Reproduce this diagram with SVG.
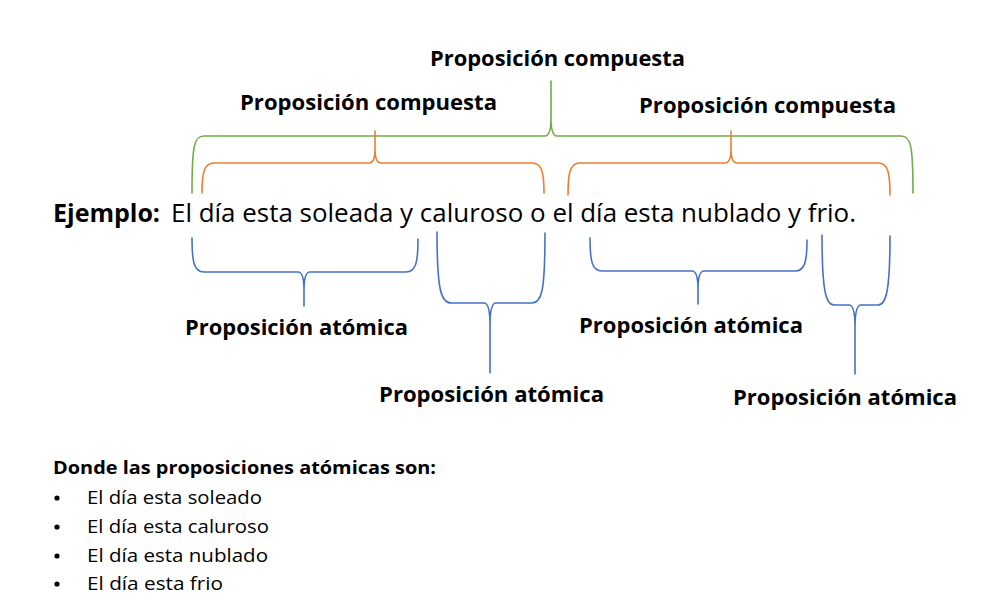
<svg xmlns="http://www.w3.org/2000/svg" width="991" height="609" viewBox="0 0 991 609">
<style>
.br{fill:none;stroke-width:1.6;stroke-linecap:round;stroke-linejoin:round}
.g{stroke:#70AD47}.o{stroke:#ED7D31}.b{stroke:#4472C4}
.lbl{font-family:"Open Sans","Liberation Sans",sans-serif;font-weight:bold;font-size:21.5px;fill:#000}
.main{font-family:"Open Sans","Liberation Sans",sans-serif;font-size:25px;fill:#000}
.list{font-family:"Open Sans","Liberation Sans",sans-serif;font-size:18.5px;fill:#000}
</style>
<rect width="991" height="609" fill="#fff"/>
<g id="connectors">
  <path class="br g" d="M192,193 C192,146 194,136 204,136 L545,136 Q551,136 551,118 L551,81 M551,118 Q551,136 557,136 L901,136 C911,136 913,146 913,193"/>
  <path class="br o" d="M202,193 C202,173 204,163 214,163 L369,163 Q375,163 375,149 L375,131 M375,149 Q375,163 381,163 L532,163 C542,163 544,173 544,193"/>
  <path class="br o" d="M568,195 C568,173 570,163 580,163 L725,163 Q731,163 731,149 L731,131 M731,149 Q731,163 737,163 L878,163 C888,163 890,173 890,195"/>
  <path class="br b" d="M192,238 C192,262 194,272 204,272 L298,272 Q304,272 304,290 L304,306 M304,290 Q304,272 310,272 L406,272 C416,272 418,262 418,239"/>
  <path class="br b" d="M437,232 C437,290 441,303 451,303 L484,303 Q490,303 490,325 L490,373 M490,325 Q490,303 496,303 L532,303 C542,303 545,290 545,233"/>
  <path class="br b" d="M590,238 C590,261 592,271 602,271 L692,271 Q698,271 698,289 L698,304 M698,289 Q698,271 704,271 L795,271 C805,271 807,261 807,240"/>
  <path class="br b" d="M822,235 C822,292 826,305 834,305 L849,305 Q855,305 855,327 L855,374 M855,327 Q855,305 861,305 L878,305 C886,305 890,292 890,236"/>
</g>
<g id="compuesta-top"><text class="lbl" x="430" y="66" textLength="255" lengthAdjust="spacingAndGlyphs">Proposición compuesta</text></g>
<g id="compuesta-left"><text class="lbl" x="240" y="110" textLength="257" lengthAdjust="spacingAndGlyphs">Proposición compuesta</text></g>
<g id="compuesta-right"><text class="lbl" x="639" y="113" textLength="257" lengthAdjust="spacingAndGlyphs">Proposición compuesta</text></g>
<g id="ejemplo">
  <text class="main" x="53" y="222" font-weight="bold" textLength="107" lengthAdjust="spacingAndGlyphs">Ejemplo:</text>
  <text class="main" x="171" y="222" textLength="685" lengthAdjust="spacingAndGlyphs">El día esta soleada y caluroso o el día esta nublado y frio.</text>
</g>
<g id="atomica-1"><text class="lbl" x="185" y="335" textLength="223" lengthAdjust="spacingAndGlyphs">Proposición atómica</text></g>
<g id="atomica-2"><text class="lbl" x="379" y="402" textLength="225" lengthAdjust="spacingAndGlyphs">Proposición atómica</text></g>
<g id="atomica-3"><text class="lbl" x="579" y="333" textLength="224" lengthAdjust="spacingAndGlyphs">Proposición atómica</text></g>
<g id="atomica-4"><text class="lbl" x="733" y="405" textLength="224" lengthAdjust="spacingAndGlyphs">Proposición atómica</text></g>
<g id="lista">
  <text class="list" x="53" y="474" font-weight="bold" textLength="383" lengthAdjust="spacingAndGlyphs">Donde las proposiciones atómicas son:</text>
  <circle cx="57" cy="498" r="2.6" fill="#000"/>
  <text class="list" x="87" y="504" textLength="175" lengthAdjust="spacingAndGlyphs">El día esta soleado</text>
  <circle cx="57" cy="527" r="2.6" fill="#000"/>
  <text class="list" x="87" y="533" textLength="182" lengthAdjust="spacingAndGlyphs">El día esta caluroso</text>
  <circle cx="57" cy="556" r="2.6" fill="#000"/>
  <text class="list" x="87" y="562" textLength="181" lengthAdjust="spacingAndGlyphs">El día esta nublado</text>
  <circle cx="57" cy="584" r="2.6" fill="#000"/>
  <text class="list" x="87" y="590" textLength="136" lengthAdjust="spacingAndGlyphs">El día esta frio</text>
</g>
</svg>
